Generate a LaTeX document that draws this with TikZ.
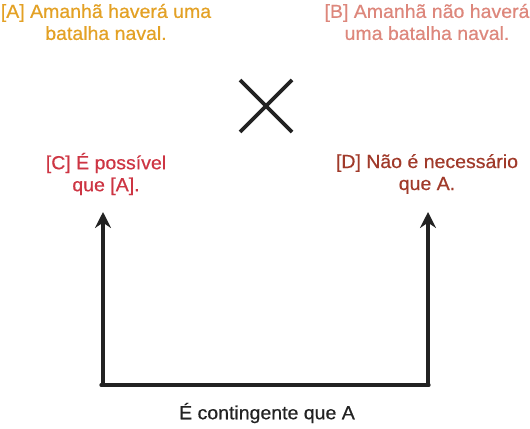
\documentclass[tikz,border=0pt]{standalone}
\usepackage{fontspec}
\setmainfont{Liberation Sans}[FakeStretch=1.03,FakeBold=0.6]
\usetikzlibrary{arrows.meta}
\definecolor{cA}{HTML}{E3A125}
\definecolor{cB}{HTML}{DD877C}
\definecolor{cC}{HTML}{CD3543}
\definecolor{cD}{HTML}{A03A2A}
\definecolor{ink}{HTML}{222222}
\begin{document}
\begin{tikzpicture}[x=0.75pt,y=-0.75pt,
  lbl/.style={align=center,font=\fontsize{14.2pt}{16.5pt}\selectfont,inner sep=0pt},
  conn/.style={draw=ink,line width=2.5pt,line cap=round},
  arr/.style={conn,-{Stealth[length=12pt,width=12pt,inset=4pt]}}]
\useasboundingbox (0,0) rectangle (530,428);
\node[lbl,text=cA] (A) at (106,22) {[A] Amanhã haverá uma\\batalha naval.};
\node[lbl,text=cB] (B) at (427,22) {[B] Amanhã não haverá\\uma batalha naval.};
\node[lbl,text=cC] (C) at (106,174) {[C] É possível\\que [A].};
\node[lbl,text=cD] (D) at (427,174) {[D] Não é necessário\\que A.};
\node[lbl,text=ink] (E) at (267,413) {É contingente que A};
\coordinate (x1) at (240,80);
\coordinate (x2) at (292,132);
\coordinate (x3) at (292,80);
\coordinate (x4) at (240,132);
\draw[draw=ink,line width=2.8pt] (x1) -- (x2);
\draw[draw=ink,line width=2.8pt] (x3) -- (x4);
\coordinate (bl) at (101,385);
\coordinate (br) at (429,385);
\coordinate (tl) at (103,212);
\coordinate (tr) at (428,212);
\draw[conn] (bl) -- (br);
\draw[arr] (103,385) -- (tl);
\draw[arr] (428,385) -- (tr);
\end{tikzpicture}
\end{document}
